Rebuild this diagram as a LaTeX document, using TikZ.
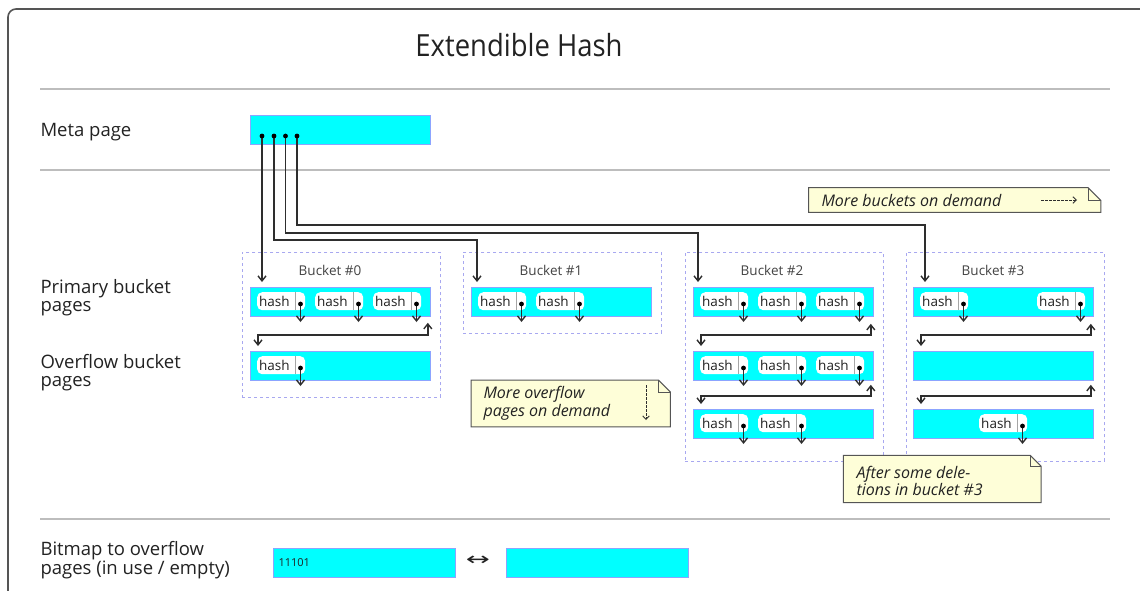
\documentclass[tikz,border=0pt]{standalone}
\usepackage{fontspec}
\setmainfont{Open Sans}
\newfontfamily\titlefont[FakeStretch=0.9]{Open Sans}
\newfontfamily\symfont[FakeStretch=1.6]{DejaVu Sans}
\usetikzlibrary{arrows.meta,calc}
\definecolor{pagefill}{HTML}{00FFFF}
\definecolor{pageline}{HTML}{8CA4FF}
\definecolor{bucketline}{HTML}{A8A8F0}
\definecolor{notefill}{HTML}{FEFED8}
\definecolor{ink}{HTML}{222222}
\definecolor{wire}{HTML}{2E2E2E}
\definecolor{rulegray}{HTML}{BDBDBD}
\definecolor{framegray}{HTML}{555555}
\tikzset{
  x=1pt, y=-1pt,
  every node/.style={text=ink},
  page/.style={draw=pageline, line width=0.8pt, fill=pagefill, minimum width=180pt,
    minimum height=29pt, anchor=north west, inner sep=0pt},
  bucketframe/.style={draw=bucketline, dash pattern=on 3pt off 3pt, line width=0.9pt,
    anchor=north west, inner sep=0pt, minimum width=198pt},
  entrybox/.style={fill=white, rounded corners=5pt, minimum height=18pt, anchor=north west,
    text width=44pt, inner xsep=2pt, inner ysep=0pt, align=left,
    font=\fontsize{13.5}{14}\selectfont},
  sectionrule/.style={draw=rulegray, line width=1.2pt},
  sidelabel/.style={anchor=west, align=left, font=\fontsize{18.5}{18}\selectfont},
  bucketlabel/.style={font=\fontsize{13.5}{14}\selectfont, text=ink!85},
  wirearrow/.style={draw=wire, line width=1.4pt, -{Straight Barb[length=5pt,width=8pt]}},
  linkarrow/.style={draw=wire, line width=1.4pt,
    {Straight Barb[length=5pt,width=8pt]}-{Straight Barb[length=5pt,width=8pt]}},
  noteshape/.style={draw=framegray, line width=1pt, fill=notefill},
  notetext/.style={anchor=west, align=left, font=\fontsize{16}{17.5}\selectfont\itshape},
  notegeom/.style={anchor=north west, inner sep=0pt},
  dasharrow/.style={draw=wire, line width=0.9pt, dash pattern=on 2.5pt off 1.5pt,
    -{Straight Barb[length=3.5pt,width=6.5pt]}},
}
% one slot of a page: "hash" plus its pointer dot and outgoing arrow
\newcommand\hashentry[3]{%
  \node[entrybox] (#1) at (#2,#3+5) {hash};
  \draw[draw=gray!70, line width=0.9pt] ($(#1.north west)+(38,0)$) -- ($(#1.south west)+(38,0)$);
  \coordinate (#1-d) at ($(#1.north west)+(43.5,12)$);
  \coordinate (#1-e) at ($(#1.north west)+(43.5,30)$);
  \draw[wirearrow] (#1-d) -- (#1-e);
  \fill[black] (#1-d) circle (2.4pt);
}
% next/previous link between two pages of the same bucket
\newcommand\pagelink[4]{%
  \draw[linkarrow] ($(#1.south east)+(-3,#3)$) -- ($(#1.south east)+(-3,#4)$)
    -| ($(#2.north west)+(8,-5)$);
}
% note with a folded corner, drawn around an invisible geometry node
\newcommand\notefold[2]{%
  \draw[noteshape] (#1.north west) -- ($(#1.north east)+(-#2,0)$) -- ($(#1.north east)+(0,#2)$)
    -- (#1.south east) -- (#1.south west) -- cycle;
  \draw[draw=framegray, line width=0.8pt] ($(#1.north east)+(-#2,0)$) -- ($(#1.north east)+(-#2,#2)$)
    -- ($(#1.north east)+(0,#2)$);
}
\begin{document}
\begin{tikzpicture}
\useasboundingbox (0,0) rectangle (1140,590);
\clip (0,0) rectangle (1140,590);

% outer frame
\draw[draw=framegray, line width=1.6pt, rounded corners=8pt] (8,620) -- (8,9) -- (1170,9);

% title and section rules
\node[font=\titlefont\fontsize{30.5}{32}\selectfont] (title) at (519,45) {Extendible Hash};
\draw[sectionrule] (40,89) -- (1110,89);
\draw[sectionrule] (40,170) -- (1110,170);
\draw[sectionrule] (40,519) -- (1110,519);

% row labels
\node[sidelabel] (lmeta) at (37,132) {Meta page};
\node[sidelabel] (lprim) at (37,298) {Primary bucket\\pages};
\node[sidelabel] (lover) at (37,373) {Overflow bucket\\pages};
\node[sidelabel] (lbits) at (37,560) {Bitmap to overflow\\pages (in use / empty)};

% meta page
\node[page, minimum height=28.5pt] (meta) at (250,115) {};
\coordinate (m0) at (262,136);
\coordinate (m1) at (274,136);
\coordinate (m2) at (285.5,136);
\coordinate (m3) at (297,136);

% bucket frames
\node[bucketframe, minimum height=145pt] (b0) at (242,252) {};
\node[bucketframe, minimum height=81pt] (b1) at (463,252) {};
\node[bucketframe, minimum height=209pt] (b2) at (685,252) {};
\node[bucketframe, minimum height=209pt] (b3) at (906,252) {};
\node[bucketlabel] (b0l) at (330,270) {Bucket \#0};
\node[bucketlabel] (b1l) at (551,270) {Bucket \#1};
\node[bucketlabel] (b2l) at (772,270) {Bucket \#2};
\node[bucketlabel] (b3l) at (993,270) {Bucket \#3};

% pages
\node[page] (b0a) at (250,287) {};
\node[page] (b0b) at (250,351) {};
\node[page] (b1a) at (471,287) {};
\node[page] (b2a) at (693,287) {};
\node[page] (b2b) at (693,351) {};
\node[page] (b2c) at (693,409) {};
\node[page] (b3a) at (913,287) {};
\node[page] (b3b) at (913,351) {};
\node[page] (b3c) at (913,409) {};

% pointers from the meta page to the primary pages
\draw[wirearrow] (m0) -- ($(b0a.north west)+(12,-5)$);
\draw[wirearrow] (m1) |- ($(b1a.north west)+(6,-47)$) -- ($(b1a.north west)+(6,-5)$);
\draw[wirearrow] (m2) |- ($(b2a.north west)+(5,-54)$) -- ($(b2a.north west)+(5,-5)$);
\draw[wirearrow] (m3) |- ($(b3a.north west)+(12,-62)$) -- ($(b3a.north west)+(12,-5)$);
\foreach \m in {m0,m1,m2,m3} \fill[black] (\m) circle (2.4pt);

% links between pages of a bucket
\pagelink{b0a}{b0b}{6}{18}
\pagelink{b2a}{b2b}{7}{18}
\pagelink{b2b}{b2c}{4}{15}
\pagelink{b3a}{b3b}{7}{18}
\pagelink{b3b}{b3c}{4}{15}

% entries
\hashentry{e00}{257}{287}
\hashentry{e01}{315}{287}
\hashentry{e02}{373}{287}
\hashentry{e03}{257}{351}
\hashentry{e10}{478}{287}
\hashentry{e11}{536}{287}
\hashentry{e20}{700}{287}
\hashentry{e21}{758}{287}
\hashentry{e22}{816}{287}
\hashentry{e23}{700}{351}
\hashentry{e24}{758}{351}
\hashentry{e25}{816}{351}
\hashentry{e26}{700}{409}
\hashentry{e27}{758}{409}
\hashentry{e30}{920}{287}
\hashentry{e31}{1037}{287}
\hashentry{e32}{979}{409}

% notes
\node[notegeom, minimum width=292pt, minimum height=24.5pt] (n1) at (808.5,187.5) {};
\notefold{n1}{13}
\node[notetext] (n1t) at (818,200) {More buckets on demand};
\coordinate (n1a) at (1041,200);
\coordinate (n1b) at (1077,200);
\draw[dasharrow] (n1a) -- (n1b);

\node[notegeom, minimum width=199pt, minimum height=46.5pt] (n2) at (471,380) {};
\notefold{n2}{12}
\node[notetext] (n2t) at (480,403.5) {More overflow\\pages on demand};
\coordinate (n2a) at (646,385);
\coordinate (n2b) at (646,420);
\draw[dasharrow] (n2a) -- (n2b);

\node[notegeom, minimum width=197.5pt, minimum height=47pt] (n3) at (843.3,455.3) {};
\notefold{n3}{11}
\node[notetext] (n3t) at (853,481) {After some dele-\\tions in bucket \#3};

% bitmap pages
\node[page, minimum width=182pt] (bm0) at (273,548) {};
\node[anchor=west, font=\fontsize{11}{11}\selectfont] (bm0t) at (275,562.5) {11101};
\node[font=\symfont\fontsize{18}{18}\selectfont] (swap) at (478,561) {↔};
\node[page, minimum width=182pt] (bm1) at (506,548) {};
\end{tikzpicture}
\end{document}
